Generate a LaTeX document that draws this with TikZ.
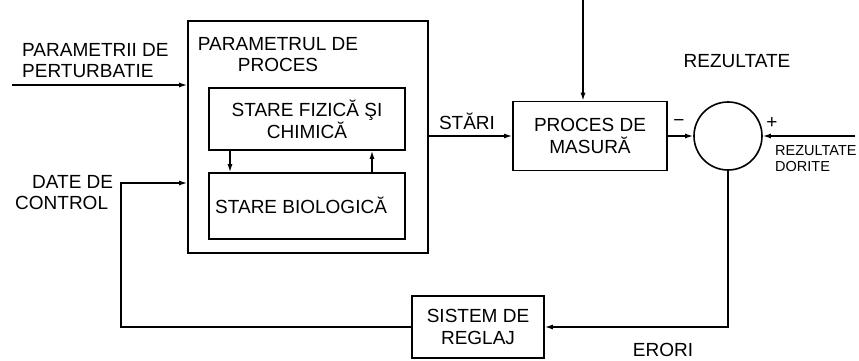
\documentclass[tikz,border=0pt]{standalone}
\usepackage{fontspec}
\setmainfont{Liberation Sans}
\usetikzlibrary{arrows.meta}
\begin{document}
\begin{tikzpicture}[x=1pt,y=-1pt,
  lbl/.style={font=\fontsize{19}{21}\selectfont, inner sep=0pt},
  small/.style={font=\fontsize{14.5}{16}\selectfont, inner sep=0pt},
  blk/.style={draw, line width=1.6pt, inner sep=0pt, font=\fontsize{19}{22}\selectfont, align=center},
  arr/.style={line width=1.4pt, -{Latex[length=8pt,width=5pt]}}]
\useasboundingbox (0,0) rectangle (859,361);
% blocks
\node[blk, minimum width=240pt, minimum height=232pt] (outer) at (308,137) {};
\node[lbl, align=center] (title) at (278,55) {PARAMETRUL DE\\PROCES};
\node[blk, minimum width=196pt, minimum height=62pt] (fiz) at (307,119) {STARE FIZICĂ ŞI\\CHIMICĂ};
\node[blk, minimum width=196pt, minimum height=66pt] (bio) at (307,206) {};
\node[lbl, anchor=west] (biot) at (215,205) {STARE BIOLOGICĂ};
\node[blk, minimum width=154pt, minimum height=69pt] (proc) at (590,136) {PROCES DE\\MASURĂ};
\node[draw, line width=1.6pt, circle, minimum size=68pt, inner sep=0pt] (circ) at (728,136) {};
\node[blk, minimum width=132pt, minimum height=62pt] (sist) at (478,327) {SISTEM DE\\REGLAJ};
% labels
\node[lbl, align=left, anchor=north west] (pert) at (22,43) {PARAMETRII DE\\PERTURBATIE};
\node[lbl, align=left, anchor=north west] (date) at (15,175) {\hspace{17pt}DATE DE\\CONTROL};
\node[lbl] (stari) at (467,121) {STĂRI};
\node[lbl] (rez) at (737,61) {REZULTATE};
\node[small, align=left, anchor=north west] (rezd) at (775,145) {REZULTATE\\DORITE};
\node[lbl] (erori) at (663,350) {ERORI};
\node[lbl] (minus) at (679,123) {−};
\node[lbl] (plus) at (772,123) {+};
% coordinates
\coordinate (pin) at (12,85);
\coordinate (top) at (583,0);
\coordinate (des) at (855,136);
\coordinate (corner) at (121,183);
% connectors
\draw[arr] (pin) -- (pin -| outer.west);
\draw[arr] (sist.west) -- (sist.west -| corner) -- (corner) -- (corner -| outer.west);
\draw[arr] (outer.east |- proc.west) -- (proc.west);
\draw[arr] (top) -- (top |- proc.north);
\draw[arr] (proc.east) -- (circ.west);
\draw[arr] (des) -- (circ.east);
\draw[arr] (circ.south) -- (circ.south |- sist.east) -- (sist.east);
\draw[arr] (fiz.south -| 230,0) -- (bio.north -| 230,0);
\draw[arr] (bio.north -| 372,0) -- (fiz.south -| 372,0);
\end{tikzpicture}
\end{document}
